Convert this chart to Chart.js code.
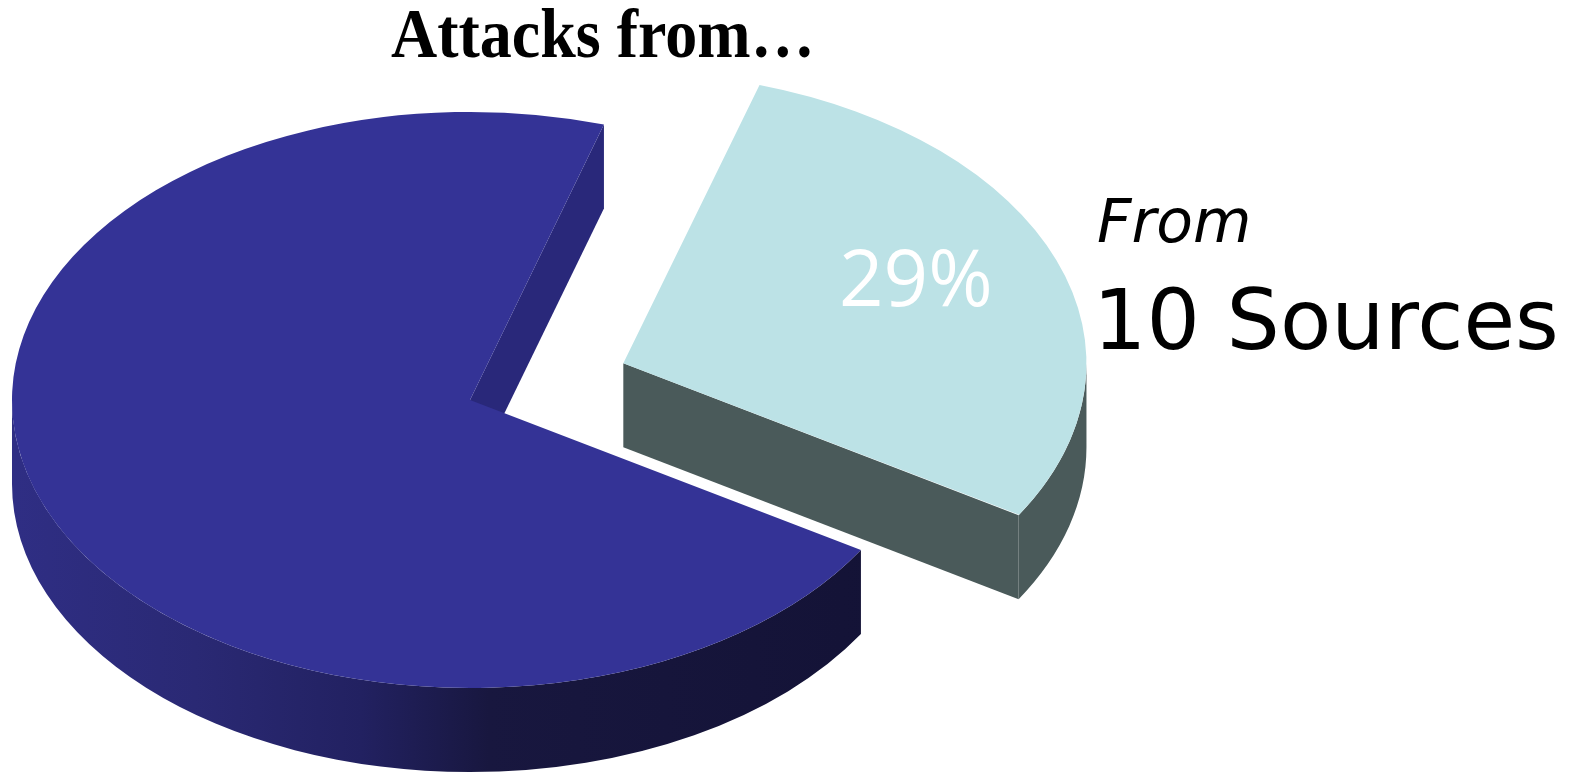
<!DOCTYPE html>
<html>
<head>
<meta charset="utf-8">
<script src="https://cdn.jsdelivr.net/npm/chart.js@4.4.1/dist/chart.umd.min.js"></script>
<style>
  html, body { margin: 0; padding: 0; background: #fff; }
  #wrap { position: relative; width: 1579px; height: 773px; overflow: hidden; }
  #pie { position: absolute; left: 0; top: 0; }
  .txt { position: absolute; white-space: nowrap; color: #000; }
  #title { left: 391px; top: 0px; font: bold 64px/64px "Liberation Serif", "Times New Roman", serif;
           transform: scaleY(1.08); transform-origin: 0 0; }
  #from { left: 1097px; top: 191px; font: italic 60px/60px "DejaVu Sans", Verdana, sans-serif; }
  #sources { left: 1093px; top: 278px; font: 84px/84px "DejaVu Sans", Verdana, sans-serif; }
</style>
</head>
<body>
<div id="wrap">
  <canvas id="pie" width="1579" height="773"></canvas>
  <div class="txt" id="title">Attacks from…</div>
  <div class="txt" id="from">From</div>
  <div class="txt" id="sources">10 Sources</div>
</div>
<script>
// data
const categories = ['From 10 Sources', 'Other sources'];
const shares = [29, 71];

// look
const DEPTH = 84;       // thickness of the pie on screen (px)
const TILT = 0.629;     // vertical squash -> ellipse
const OFFSET_DIV = 4;   // Chart.js v4 arc draws offset / 4

const topColors = ['#BCE2E6', '#343396'];
const faceColors = ['#4A5A5A', '#29287A'];

function rimColor(ctx, i) {
  if (i === 0) return '#4A5A5A';
  const g = ctx.createLinearGradient(12, 0, 930, 0);
  g.addColorStop(0, '#2F2E84');
  g.addColorStop(0.2, '#2A2974');
  g.addColorStop(0.38, '#222161');
  g.addColorStop(0.52, '#18173F');
  g.addColorStop(1, '#131235');
  return g;
}

function arcGeom(arc) {
  const off = (arc.options.offset || 0) / OFFSET_DIV;
  const mid = (arc.startAngle + arc.endAngle) / 2;
  const fix = 1 - Math.sin(Math.min(Math.PI, arc.circumference || 0));
  return {
    x: arc.x + Math.cos(mid) * off,
    y: arc.y + Math.sin(mid) * off,
    r: arc.outerRadius + off * fix,
    s: arc.startAngle,
    e: arc.endAngle,
    mid: mid
  };
}

const pie3d = {
  id: 'pie3d',
  beforeDatasetsDraw(chart) {
    const ctx = chart.ctx;
    const meta = chart.getDatasetMeta(0);
    const cy = meta.data[0].y;
    ctx.save();
    // squash everything drawn from here into an ellipse
    ctx.translate(0, cy);
    ctx.scale(1, TILT);
    ctx.translate(0, -cy);
    const h = DEPTH / TILT;

    meta.data.forEach((arc, i) => {
      const g = arcGeom(arc);
      // cut faces (only the ones turned to the viewer)
      ctx.fillStyle = faceColors[i];
      [[g.s, Math.cos(g.s) < 0], [g.e, Math.cos(g.e) > 0]].forEach(([a, vis]) => {
        if (!vis) return;
        const ex = g.x + Math.cos(a) * g.r, ey = g.y + Math.sin(a) * g.r;
        ctx.beginPath();
        ctx.moveTo(g.x, g.y);
        ctx.lineTo(ex, ey);
        ctx.lineTo(ex, ey + h);
        ctx.lineTo(g.x, g.y + h);
        ctx.closePath();
        ctx.fill();
      });
      // outer rim, front half only
      ctx.fillStyle = rimColor(ctx, i);
      for (let n = -1; n <= 1; n++) {
        const a = Math.max(g.s, n * 2 * Math.PI);
        const b = Math.min(g.e, n * 2 * Math.PI + Math.PI);
        if (b <= a) continue;
        ctx.beginPath();
        ctx.arc(g.x, g.y, g.r, a, b);
        ctx.lineTo(g.x + Math.cos(b) * g.r, g.y + Math.sin(b) * g.r + h);
        ctx.arc(g.x, g.y + h, g.r, b, a, true);
        ctx.closePath();
        ctx.fill();
      }
    });
  },
  afterDatasetsDraw(chart) {
    const ctx = chart.ctx;
    ctx.restore();
    const meta = chart.getDatasetMeta(0);
    const cy = meta.data[0].y;
    const total = shares.reduce((a, b) => a + b, 0);
    meta.data.forEach((arc, i) => {
      if (!arc.options.offset) return;
      const g = arcGeom(arc);
      const px = g.x + Math.cos(g.mid - 0.035) * g.r * 0.685;
      const py = cy + (g.y + Math.sin(g.mid - 0.035) * g.r * 0.685 - cy) * TILT;
      ctx.save();
      ctx.fillStyle = '#FFFFFF';
      ctx.font = '78px "Open Sans", "Noto Sans", sans-serif';
      ctx.textAlign = 'center';
      ctx.textBaseline = 'alphabetic';
      ctx.fillText(Math.round(shares[i] / total * 100) + '%', px, py + 20);
      ctx.restore();
    });
  }
};

new Chart(document.getElementById('pie'), {
  type: 'pie',
  data: {
    labels: categories,
    datasets: [{
      data: shares,
      backgroundColor: topColors,
      borderWidth: 0,
      offset: [656, 0],
      hoverOffset: 0,
      clip: false
    }]
  },
  options: {
    responsive: false,
    devicePixelRatio: 1,
    animation: false,
    rotation: 17,
    radius: 458,
    layout: { padding: { left: 0, right: 639, top: 27, bottom: 0 } },
    events: [],
    plugins: {
      legend: { display: false },
      title: { display: false },
      tooltip: { enabled: false }
    }
  },
  plugins: [pie3d]
});
</script>
</body>
</html>
